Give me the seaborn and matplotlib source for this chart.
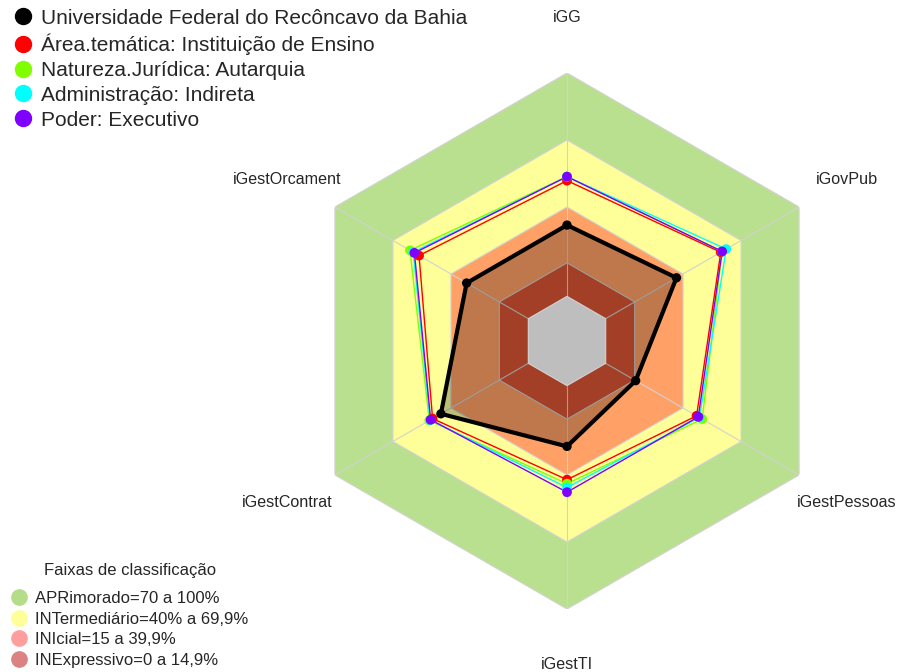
import numpy as np
import pandas as pd
import matplotlib
matplotlib.use('Agg')
import matplotlib.pyplot as plt
import seaborn as sns
from matplotlib.lines import Line2D

# indicadores, sentido horario a partir do topo
indicadores = ['iGG', 'iGovPub', 'iGestPessoas', 'iGestTI', 'iGestContrat', 'iGestOrcament']

ufrb = [31.9, 36.6, 15.5, 27.2, 45.2, 31.9]
area_tematica = [51.8, 59.5, 47.0, 42.1, 49.5, 56.5]
natureza_juridica = [53.6, 60.2, 49.9, 43.9, 51.2, 61.2]
administracao = [53.6, 62.3, 48.5, 45.6, 50.8, 59.5]
poder = [53.6, 60.2, 47.9, 47.7, 50.5, 58.9]

series_nomes = ['Universidade Federal do Recôncavo da Bahia',
                'Área.temática: Instituição de Ensino',
                'Natureza.Jurídica: Autarquia',
                'Administração: Indireta',
                'Poder: Executivo']
series_cores = ['#000000', '#FF0000', '#80FF00', '#00FFFF', '#8000FF']

faixas_lim = [100, 70, 40, 15]
faixas_cor = ['#B9E08F', '#FFFF99', '#FFA066', '#DC5535']
faixas_nomes = ['APRimorado=70 a 100%', 'INTermediário=40% a 69,9%',
                'INIcial=15 a 39,9%', 'INExpressivo=0 a 14,9%']
faixas_leg_cor = ['#B5DC88', '#FFFF99', '#FF9E9E', '#DB8383']

sns.set_style('white')
plt.rcParams['font.family'] = ['Liberation Sans', 'DejaVu Sans']

n = len(indicadores)
theta = np.arange(n) * 2 * np.pi / n
theta_c = np.append(theta, theta[0] + 2 * np.pi)

fig = plt.figure(figsize=(9.01, 6.72), dpi=100)
ax = fig.add_axes([299 / 901, 63 / 672, 536 / 901, 536 / 672], projection='polar')
ax.set_theta_zero_location('N')
ax.set_theta_direction(-1)
ax.set_ylim(-20, 100)
ax.grid(False)
ax.spines['polar'].set_visible(False)
ax.set_xticks([])
ax.set_yticks([])
ax.patch.set_alpha(0)

# faixas de classificacao
for lim, cor in zip(faixas_lim, faixas_cor):
    ax.fill(theta_c, [lim] * (n + 1), facecolor=cor, edgecolor='#D2D2D2', lw=0.8, zorder=1)
for t in theta:
    ax.plot([t, t], [0, 100], color='#D2D2D2', lw=0.8, zorder=2)

# preenchimento da UFRB
ufrb_c = ufrb + [ufrb[0]]
ax.fill(theta_c, ufrb_c, color='black', alpha=0.25, lw=0, zorder=3)
# centro (abaixo de zero)
ax.fill(theta_c, [0] * (n + 1), facecolor='#BEBEBE', edgecolor='#D2D2D2', lw=0.8, zorder=3.5)

valores = [ufrb, area_tematica, natureza_juridica, administracao, poder]
linhas = []
for nome, vals in zip(series_nomes, valores):
    vc = list(vals) + [vals[0]]
    for i, (t, v) in enumerate(zip(theta_c, vc)):
        linhas.append({'serie': nome, 'ordem': i, 'theta': t, 'valor': v})
df = pd.DataFrame(linhas)
pal = dict(zip(series_nomes, series_cores))

grupos = df[df['serie'] != series_nomes[0]]
sns.lineplot(data=grupos, x='theta', y='valor', hue='serie', palette=pal, sort=False,
             estimator=None, lw=1, legend=False, ax=ax, zorder=4)
sns.scatterplot(data=grupos[grupos['ordem'] < n], x='theta', y='valor', hue='serie',
                palette=pal, s=50, edgecolor='none', legend=False, ax=ax, zorder=5)

uf = df[df['serie'] == series_nomes[0]]
sns.lineplot(data=uf, x='theta', y='valor', color='black', sort=False, estimator=None,
             lw=3, ax=ax, zorder=6)
sns.scatterplot(data=uf[uf['ordem'] < n], x='theta', y='valor', color='black', s=45,
                edgecolor='none', ax=ax, zorder=7)
ax.set_xlabel('')
ax.set_ylabel('')

for t, nome in zip(theta, indicadores):
    ax.text(t, 124.8, nome, ha='center', va='center', fontsize=11.6, clip_on=False)

h1 = [Line2D([], [], marker='o', ls='', color=c, markersize=11.5) for c in series_cores]
leg1 = fig.legend(h1, series_nomes, loc='upper left', bbox_to_anchor=(0.014, 0.987),
                  frameon=False, fontsize=15.0, handlelength=1.0, handletextpad=0.37,
                  labelspacing=0.28, borderpad=0, borderaxespad=0)

h2 = [Line2D([], [], marker='o', ls='', color=c, markersize=11) for c in faixas_leg_cor]
leg2 = fig.legend(h2, faixas_nomes, loc='lower left', bbox_to_anchor=(0.012, 0.006),
                  frameon=False, fontsize=12, handlelength=1.0, handletextpad=0.44,
                  labelspacing=0.34, borderpad=0, borderaxespad=0)
fig.text(130 / 901, 1 - 571 / 672, 'Faixas de classificação', ha='center', va='center',
         fontsize=12)

fig.savefig('out.png', dpi=100)
